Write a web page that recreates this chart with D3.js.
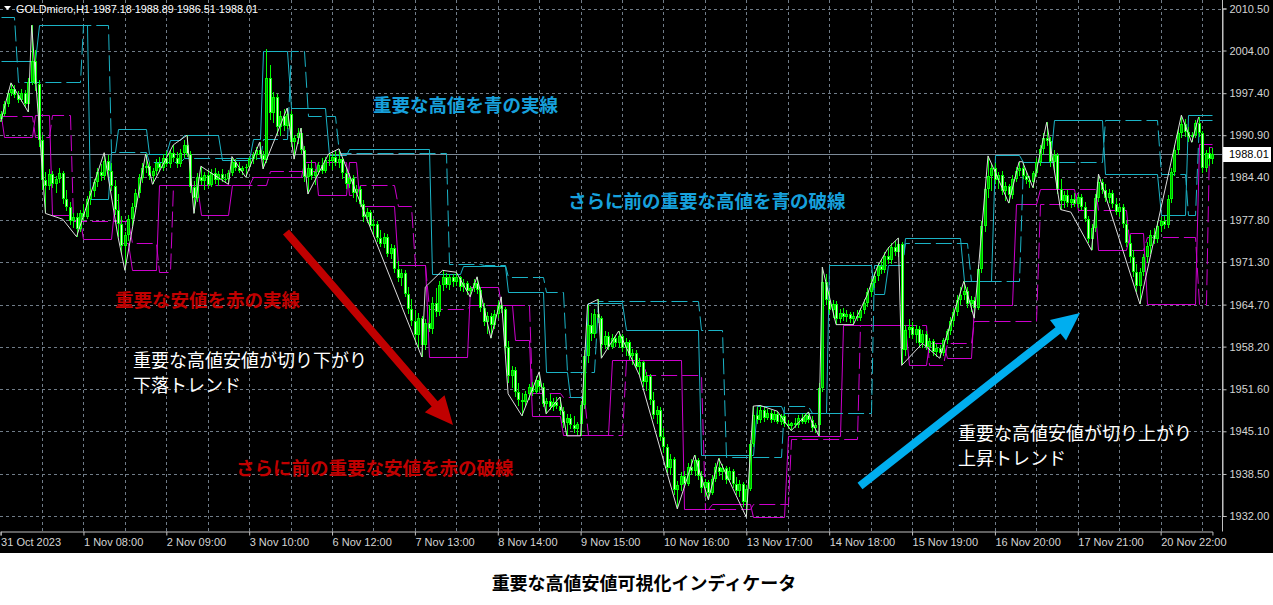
<!DOCTYPE html>
<html><head><meta charset="utf-8">
<script src="https://cdn.jsdelivr.net/npm/d3@7"></script>
<style>html,body{margin:0;padding:0;background:#fff;}svg{display:block;}</style>
</head><body>
<svg id="c" width="1273" height="605"></svg>
<script>
// ---------------- DATA ----------------
const symbolTitle = "GOLDmicro,H1  1987.18 1988.89 1986.51 1988.01";
const priceTicks = [2010.50,2004.00,1997.40,1990.90,1984.40,1977.80,1971.30,1964.70,1958.20,1951.60,1945.10,1938.50,1932.00];
const timeLabels = ["31 Oct 2023","1 Nov 08:00","2 Nov 09:00","3 Nov 10:00","6 Nov 12:00","7 Nov 13:00","8 Nov 14:00","9 Nov 15:00","10 Nov 16:00","13 Nov 17:00","14 Nov 18:00","15 Nov 19:00","16 Nov 20:00","17 Nov 21:00","20 Nov 22:00"];
const timeLabelBars = [0,24,48,72,96,120,144,168,192,216,240,264,288,312,336];
const lastPrice = 1988.01;

const opens = [1993.4,1994.2,1995.8,1997.5,1998.0,1997.1,1996.4,1997.4,1995.7,1999.2,
2002.4,1998.8,1990.2,1984.0,1983.0,1984.9,1983.4,1984.1,1985.0,1981.0,
1979.8,1977.6,1978.3,1976.4,1978.9,1978.2,1981.0,1982.2,1983.6,1985.2,
1984.6,1986.9,1985.3,1983.0,1979.4,1977.2,1973.8,1975.4,1977.9,1979.8,
1982.0,1984.3,1985.9,1986.2,1984.6,1985.4,1986.6,1985.8,1987.4,1986.5,
1988.1,1987.3,1986.4,1988.2,1989.4,1988.0,1982.9,1981.2,1984.4,1983.8,
1984.8,1983.2,1985.0,1984.0,1984.9,1984.2,1984.1,1985.1,1986.8,1985.9,
1985.4,1985.8,1986.0,1987.2,1987.8,1988.6,1987.9,1987.0,1999.8,1994.4,
1996.8,1992.2,1993.9,1992.4,1994.2,1989.8,1990.4,1991.2,1988.6,1984.5,
1985.8,1984.6,1985.2,1986.3,1985.4,1987.1,1986.9,1987.6,1986.6,1987.2,
1985.0,1983.4,1984.3,1981.9,1982.6,1980.3,1978.2,1979.0,1976.8,1977.2,
1975.0,1974.1,1975.2,1972.6,1973.5,1970.2,1968.8,1969.6,1966.4,1964.0,
1962.2,1960.0,1962.6,1958.4,1961.8,1960.9,1965.0,1963.6,1967.8,1968.9,
1967.8,1969.0,1968.2,1968.9,1967.4,1968.0,1966.8,1967.2,1968.1,1966.9,
1964.2,1962.0,1962.9,1961.6,1963.2,1964.6,1964.0,1958.2,1953.6,1954.6,
1951.2,1950.0,1949.6,1950.8,1951.9,1951.2,1953.0,1952.0,1949.4,1949.8,
1948.9,1949.7,1949.0,1948.2,1946.4,1947.2,1946.0,1945.4,1946.2,1949.2,
1956.8,1961.6,1960.2,1963.2,1962.6,1958.4,1959.8,1958.2,1959.6,1958.8,
1959.9,1958.0,1958.9,1956.8,1957.2,1955.0,1955.8,1952.8,1953.6,1950.0,
1947.6,1948.4,1944.2,1942.6,1939.4,1940.8,1936.0,1936.8,1938.2,1937.0,
1939.6,1939.0,1940.6,1938.2,1936.4,1937.2,1935.6,1937.8,1939.6,1938.8,
1939.4,1937.6,1938.9,1937.0,1935.8,1936.9,1934.2,1936.2,1943.2,1947.6,
1946.9,1948.4,1947.2,1948.0,1946.9,1947.8,1946.6,1947.4,1946.2,1945.9,
1946.4,1946.0,1947.2,1946.6,1947.6,1946.8,1945.6,1946.0,1951.8,1968.2,
1965.4,1963.8,1964.8,1962.4,1963.4,1962.8,1963.3,1962.4,1963.0,1962.6,
1963.8,1965.0,1966.6,1968.0,1969.2,1970.6,1970.0,1972.2,1971.6,1973.6,
1972.8,1974.0,1957.6,1960.8,1961.2,1960.0,1961.0,1958.8,1960.2,1958.2,
1959.0,1957.4,1958.0,1957.2,1959.2,1960.6,1962.2,1963.6,1965.4,1966.2,
1966.8,1964.8,1965.4,1964.2,1970.2,1976.8,1982.6,1984.6,1985.8,1984.0,
1984.8,1982.2,1983.0,1981.6,1984.2,1985.4,1985.8,1984.6,1984.0,1983.6,
1985.0,1986.8,1988.8,1990.4,1990.0,1986.8,1987.8,1982.6,1980.8,1981.6,
1980.4,1981.0,1980.2,1981.4,1979.8,1978.0,1974.8,1976.6,1981.2,1983.6,
1982.4,1981.2,1982.0,1980.2,1979.0,1979.8,1977.2,1974.2,1972.0,1969.8,
1967.6,1969.8,1972.0,1973.8,1975.4,1974.8,1976.8,1977.6,1977.0,1981.0,
1985.2,1988.6,1991.2,1992.6,1991.4,1990.6,1991.0,1992.8,1991.2,1985.8,
1988.2,1987.18];

const highs = [1994.6,1996.2,1997.9,1999.0,1998.6,1997.8,1998.1,1997.9,1999.8,2007.9,
2004.1,1999.5,1991.0,1985.2,1985.6,1985.4,1984.6,1985.8,1985.3,1982.4,
1980.6,1978.9,1978.8,1979.4,1980.2,1981.5,1982.8,1984.1,1985.9,1986.4,
1988.2,1987.8,1986.6,1984.0,1981.8,1978.4,1976.0,1978.6,1980.4,1982.6,
1984.9,1986.6,1988.0,1986.8,1985.9,1987.2,1987.5,1988.0,1988.4,1988.6,
1989.4,1988.3,1988.8,1990.1,1990.9,1988.5,1983.8,1985.0,1986.1,1985.2,
1985.5,1985.6,1985.9,1985.4,1985.6,1984.9,1985.5,1987.6,1987.2,1986.8,
1986.2,1986.4,1987.6,1988.3,1989.1,1989.8,1988.4,2004.2,2001.8,1997.6,
1997.2,1994.6,1995.0,1995.1,1994.6,1991.0,1992.0,1992.0,1989.2,1986.4,
1987.0,1985.6,1986.8,1987.4,1987.5,1988.0,1988.2,1988.4,1988.8,1987.6,
1985.8,1985.0,1984.8,1983.2,1983.0,1980.9,1979.6,1979.4,1977.9,1977.6,
1976.2,1975.8,1975.6,1974.0,1973.9,1971.4,1970.2,1970.0,1967.4,1965.6,
1963.8,1963.4,1963.0,1962.4,1964.6,1965.8,1967.2,1968.4,1970.0,1969.6,
1969.5,1969.4,1969.7,1969.2,1968.6,1968.4,1967.6,1968.6,1969.0,1967.4,
1965.0,1963.6,1963.4,1963.8,1965.2,1965.9,1964.4,1959.0,1955.2,1955.0,
1952.6,1951.0,1951.4,1952.4,1952.8,1953.6,1954.3,1952.6,1950.2,1950.8,
1950.2,1950.4,1950.4,1948.8,1947.8,1947.8,1947.4,1946.6,1949.8,1957.6,
1964.7,1963.4,1964.0,1965.5,1963.0,1960.6,1960.4,1960.2,1960.0,1960.6,
1960.2,1959.6,1959.2,1957.8,1957.6,1956.4,1956.0,1954.2,1953.9,1951.2,
1949.0,1948.8,1945.6,1943.2,1941.6,1941.2,1937.4,1938.8,1939.0,1940.2,
1940.8,1941.4,1941.0,1939.0,1937.8,1937.6,1938.4,1940.2,1940.9,1940.0,
1939.8,1939.6,1939.2,1938.0,1937.6,1937.2,1936.8,1943.8,1949.0,1948.8,
1949.1,1948.9,1948.6,1948.4,1948.2,1948.2,1947.8,1947.8,1946.8,1946.6,
1947.2,1947.6,1947.8,1948.0,1948.1,1947.4,1946.4,1952.6,1970.5,1969.4,
1966.8,1965.4,1965.2,1964.0,1964.2,1963.8,1963.6,1963.6,1963.8,1964.2,
1965.6,1967.2,1968.6,1969.8,1971.2,1971.8,1972.8,1973.6,1974.2,1974.6,
1975.0,1974.4,1961.6,1962.4,1962.0,1961.6,1961.4,1960.8,1960.6,1959.6,
1959.4,1958.6,1958.4,1959.6,1961.0,1962.8,1964.2,1966.2,1967.4,1968.3,
1967.4,1966.0,1965.8,1970.8,1977.6,1983.4,1987.7,1986.4,1986.6,1985.2,
1985.4,1983.6,1983.4,1984.8,1986.0,1986.8,1986.6,1985.2,1984.6,1985.4,
1987.4,1989.4,1991.2,1992.9,1990.6,1988.6,1988.2,1984.2,1982.2,1982.4,
1981.6,1982.0,1981.8,1981.8,1980.6,1978.4,1977.2,1981.8,1984.9,1984.2,
1983.4,1982.6,1982.4,1981.2,1980.4,1980.2,1977.8,1975.4,1973.2,1971.0,
1970.4,1972.6,1974.4,1976.2,1976.6,1977.6,1978.2,1978.4,1981.6,1985.8,
1989.4,1991.8,1994.0,1993.4,1992.2,1991.4,1993.2,1993.7,1991.6,1988.6,
1989.0,1988.89];

const lows = [1993.0,1993.8,1995.2,1996.9,1996.6,1995.9,1996.0,1995.2,1994.5,1998.6,
1997.8,1989.0,1982.5,1978.8,1982.4,1982.8,1982.0,1983.5,1980.2,1979.2,
1977.0,1976.5,1975.2,1976.0,1977.6,1977.9,1980.1,1981.3,1982.9,1983.8,
1984.0,1984.5,1982.2,1978.6,1975.2,1972.6,1970.0,1974.6,1976.8,1979.0,
1981.2,1983.5,1985.1,1984.0,1983.3,1984.8,1985.2,1985.3,1986.0,1985.9,
1986.8,1985.8,1986.0,1987.4,1987.6,1982.0,1978.8,1980.6,1983.2,1982.5,
1982.8,1982.9,1983.4,1983.1,1983.6,1983.5,1983.3,1984.6,1985.4,1985.0,
1984.7,1984.4,1985.6,1986.5,1987.0,1987.4,1985.7,1986.6,1993.2,1992.8,
1991.0,1990.8,1991.6,1991.8,1989.0,1987.2,1989.6,1988.0,1983.6,1981.8,
1984.0,1983.2,1984.7,1984.9,1985.0,1986.2,1985.5,1986.1,1985.8,1984.2,
1982.6,1982.8,1981.2,1980.6,1979.8,1977.5,1977.3,1976.2,1975.4,1974.4,
1973.6,1973.5,1972.0,1971.8,1969.6,1968.2,1967.6,1965.8,1963.2,1961.4,
1958.8,1957.8,1956.6,1957.6,1960.4,1960.2,1962.8,1963.0,1966.8,1967.2,
1967.0,1967.4,1967.6,1966.8,1966.6,1966.2,1965.9,1966.6,1966.4,1963.6,
1961.4,1960.2,1959.5,1961.0,1962.6,1963.4,1957.0,1952.6,1951.8,1950.4,
1949.0,1947.5,1948.8,1950.0,1950.6,1950.8,1951.4,1948.8,1947.8,1948.4,
1948.2,1948.6,1947.6,1945.6,1944.4,1945.4,1944.8,1944.6,1944.4,1948.6,
1955.6,1959.0,1959.6,1961.8,1956.4,1957.8,1957.6,1957.8,1958.2,1958.0,
1957.4,1956.8,1956.2,1955.4,1954.6,1953.8,1952.0,1951.4,1949.2,1947.0,
1946.2,1943.6,1941.8,1938.6,1938.4,1935.2,1933.1,1935.8,1936.4,1936.6,
1938.4,1938.2,1937.6,1935.6,1935.0,1934.5,1935.2,1937.2,1938.2,1937.6,
1937.0,1937.2,1936.4,1935.2,1935.0,1933.4,1931.8,1935.8,1942.6,1946.2,
1946.4,1946.6,1946.8,1946.4,1946.5,1946.2,1946.0,1945.8,1945.4,1945.2,
1945.6,1945.6,1946.2,1946.2,1946.4,1945.2,1944.8,1944.4,1951.2,1964.6,
1963.2,1962.6,1961.6,1961.8,1962.2,1962.0,1961.8,1961.6,1962.2,1962.2,
1963.2,1964.4,1965.8,1967.2,1968.4,1969.4,1969.6,1971.0,1971.0,1972.2,
1972.0,1955.3,1956.8,1959.6,1959.4,1958.8,1958.2,1958.0,1957.6,1957.2,
1956.8,1956.6,1956.4,1956.8,1958.6,1960.0,1961.4,1963.0,1964.6,1965.4,
1964.2,1963.6,1962.6,1963.8,1969.6,1976.0,1981.2,1982.2,1983.4,1982.6,
1981.6,1980.8,1980.4,1981.0,1983.6,1984.6,1984.2,1983.4,1982.8,1982.8,
1984.4,1986.2,1988.0,1989.2,1986.0,1985.4,1981.8,1979.4,1979.6,1979.8,
1979.6,1979.8,1979.6,1979.4,1977.4,1974.2,1973.1,1976.0,1980.6,1981.8,
1980.6,1980.4,1979.6,1978.6,1978.2,1976.6,1973.6,1971.2,1969.0,1966.6,
1964.8,1969.2,1971.2,1972.6,1974.0,1974.2,1976.0,1976.4,1976.6,1980.4,
1984.6,1987.8,1990.4,1990.6,1989.8,1989.8,1990.4,1990.6,1985.0,1985.2,
1986.2,1986.51];

const closes = [1994.2,1995.8,1997.5,1998.0,1997.1,1996.4,1997.4,1995.7,1999.2,2002.4,
1998.8,1990.2,1984.0,1983.0,1984.9,1983.4,1984.1,1985.0,1981.0,1979.8,
1977.6,1978.3,1976.4,1978.9,1978.2,1981.0,1982.2,1983.6,1985.2,1984.6,
1986.9,1985.3,1983.0,1979.4,1977.2,1973.8,1975.4,1977.9,1979.8,1982.0,
1984.3,1985.9,1986.2,1984.6,1985.4,1986.6,1985.8,1987.4,1986.5,1988.1,
1987.3,1986.4,1988.2,1989.4,1988.0,1982.9,1981.2,1984.4,1983.8,1984.8,
1983.2,1985.0,1984.0,1984.9,1984.2,1984.1,1985.1,1986.8,1985.9,1985.4,
1985.8,1986.0,1987.2,1987.8,1988.6,1987.9,1987.0,1999.8,1994.4,1996.8,
1992.2,1993.9,1992.4,1994.2,1989.8,1990.4,1991.2,1988.6,1984.5,1985.8,
1984.6,1985.2,1986.3,1985.4,1987.1,1986.9,1987.6,1986.6,1987.2,1985.0,
1983.4,1984.3,1981.9,1982.6,1980.3,1978.2,1979.0,1976.8,1977.2,1975.0,
1974.1,1975.2,1972.6,1973.5,1970.2,1968.8,1969.6,1966.4,1964.0,1962.2,
1960.0,1962.6,1958.4,1961.8,1960.9,1965.0,1963.6,1967.8,1968.9,1967.8,
1969.0,1968.2,1968.9,1967.4,1968.0,1966.8,1967.2,1968.1,1966.9,1964.2,
1962.0,1962.9,1961.6,1963.2,1964.6,1964.0,1958.2,1953.6,1954.6,1951.2,
1950.0,1949.6,1950.8,1951.9,1951.2,1953.0,1952.0,1949.4,1949.8,1948.9,
1949.7,1949.0,1948.2,1946.4,1947.2,1946.0,1945.4,1946.2,1949.2,1956.8,
1961.6,1960.2,1963.2,1962.6,1958.4,1959.8,1958.2,1959.6,1958.8,1959.9,
1958.0,1958.9,1956.8,1957.2,1955.0,1955.8,1952.8,1953.6,1950.0,1947.6,
1948.4,1944.2,1942.6,1939.4,1940.8,1936.0,1936.8,1938.2,1937.0,1939.6,
1939.0,1940.6,1938.2,1936.4,1937.2,1935.6,1937.8,1939.6,1938.8,1939.4,
1937.6,1938.9,1937.0,1935.8,1936.9,1934.2,1936.2,1943.2,1947.6,1946.9,
1948.4,1947.2,1948.0,1946.9,1947.8,1946.6,1947.4,1946.2,1945.9,1946.4,
1946.0,1947.2,1946.6,1947.6,1946.8,1945.6,1946.0,1951.8,1968.2,1965.4,
1963.8,1964.8,1962.4,1963.4,1962.8,1963.3,1962.4,1963.0,1962.6,1963.8,
1965.0,1966.6,1968.0,1969.2,1970.6,1970.0,1972.2,1971.6,1973.6,1972.8,
1974.0,1957.6,1960.8,1961.2,1960.0,1961.0,1958.8,1960.2,1958.2,1959.0,
1957.4,1958.0,1957.2,1959.2,1960.6,1962.2,1963.6,1965.4,1966.2,1966.8,
1964.8,1965.4,1964.2,1970.2,1976.8,1982.6,1984.6,1985.8,1984.0,1984.8,
1982.2,1983.0,1981.6,1984.2,1985.4,1985.8,1984.6,1984.0,1983.6,1985.0,
1986.8,1988.8,1990.4,1990.0,1986.8,1987.8,1982.6,1980.8,1981.6,1980.4,
1981.0,1980.2,1981.4,1979.8,1978.0,1974.8,1976.6,1981.2,1983.6,1982.4,
1981.2,1982.0,1980.2,1979.0,1979.8,1977.2,1974.2,1972.0,1969.8,1967.6,
1969.8,1972.0,1973.8,1975.4,1974.8,1976.8,1977.6,1977.0,1981.0,1985.2,
1988.6,1991.2,1992.6,1991.4,1990.6,1991.0,1992.8,1991.2,1985.8,1988.2,
1987.18,1988.01];

// swing zigzag (white)
const zigzagBars = [0,3,8,9,13,18,22,30,34,36,42,44,50,54,56,58,66,67,71,75,76,83,85,87,89,95,98,122,123,128,132,136,138,142,145,147,151,156,158,162,164,168,170,173,174,179,185,196,201,205,208,216,218,220,225,229,234,235,237,238,242,247,251,254,257,260,261,267,272,279,282,286,289,292,295,296,299,303,307,310,316,318,330,342,345,347];
const zigzagPrices = [1993.0,1999.0,1994.5,2007.9,1978.8,1977.9,1975.2,1988.2,1975.2,1970.0,1988.0,1983.3,1989.4,1990.9,1978.8,1986.1,1983.3,1987.6,1984.4,1989.8,1985.7,1995.1,1987.2,1992.0,1981.8,1988.0,1988.8,1956.6,1967.4,1970.0,1969.7,1965.9,1969.0,1959.5,1965.9,1950.9,1947.5,1954.3,1947.8,1950.4,1944.4,1944.4,1964.7,1965.5,1956.4,1960.6,1953.8,1933.1,1941.4,1934.5,1940.9,1931.8,1949.0,1949.1,1948.2,1945.2,1948.1,1946.5,1944.4,1970.5,1961.6,1961.6,1966.2,1970.6,1973.4,1975.0,1955.3,1958.7,1956.4,1968.3,1962.6,1987.7,1984.1,1980.4,1986.8,1986.8,1982.8,1992.9,1979.4,1979.0,1973.1,1984.9,1964.8,1994.0,1989.8,1993.7];

// step levels: [first bar, last bar, price]
const highSolid = [[0,10,2002.4],[11,25,2007.9],[26,31,1981.0],[32,33,1988.3],[34,42,1991.8],[43,48,1988.0],[49,52,1990.2],[53,63,1990.9],[64,72,1987.0],[73,75,1990.3],[76,83,2004.0],[84,94,1995.1],[95,100,1987.9],[101,124,1988.8],[125,133,1969.5],[134,146,1970.6],[147,157,1966.6],[158,164,1954.3],[165,169,1950.4],[170,180,1964.9],[181,202,1960.8],[203,218,1941.5],[219,226,1949.0],[227,239,1948.0],[240,252,1970.8],[253,256,1966.3],[257,261,1970.8],[262,278,1975.0],[279,287,1968.3],[288,295,1987.8],[296,304,1986.7],[305,319,1993.3],[320,335,1984.9],[336,343,1978.6],[344,351,1994.0]];
const highDashed = [[0,4,2009.2],[5,23,1999.1],[24,31,2007.9],[32,42,1988.3],[43,52,1986.7],[53,75,1987.4],[76,83,1990.3],[84,88,2004.0],[89,97,1993.9],[98,129,1988.2],[130,139,1971.0],[140,146,1970.8],[147,157,1969.0],[158,163,1966.6],[164,172,1954.3],[173,202,1965.2],[203,209,1960.8],[210,226,1941.2],[227,234,1949.0],[235,252,1948.0],[253,261,1970.8],[262,280,1974.2],[281,295,1968.3],[296,319,1986.7],[320,335,1993.3],[336,343,1984.9],[344,346,1978.6],[347,351,1993.3]];
const lowSolid = [[0,0,1993.8],[1,9,1990.6],[10,14,1994.0],[15,20,1978.6],[21,23,1977.8],[24,32,1974.9],[33,34,1980.9],[35,37,1974.3],[38,45,1970.0],[46,57,1983.2],[58,66,1978.6],[67,72,1983.2],[73,87,1984.4],[88,91,1986.8],[92,100,1981.6],[101,103,1986.8],[104,114,1980.0],[115,123,1970.8],[124,135,1956.6],[136,144,1967.4],[145,148,1964.7],[149,153,1959.2],[154,162,1947.5],[163,176,1944.6],[177,197,1956.1],[198,205,1933.1],[206,217,1933.9],[218,227,1931.8],[228,243,1944.3],[244,262,1961.6],[263,268,1955.3],[269,273,1958.7],[274,281,1956.4],[282,293,1964.7],[294,300,1980.2],[301,311,1982.6],[312,317,1979.4],[318,326,1973.1],[327,331,1975.7],[332,346,1964.8],[347,351,1989.5]];
const lowDashed = [[0,9,1993.8],[10,14,1990.6],[15,20,1994.0],[21,37,1977.6],[38,45,1974.3],[46,49,1969.8],[50,77,1983.2],[78,91,1985.4],[92,100,1986.8],[101,103,1981.6],[104,114,1983.2],[115,119,1980.0],[120,123,1970.8],[124,135,1964.0],[136,153,1964.7],[154,162,1951.0],[163,169,1950.4],[170,180,1944.6],[181,186,1956.1],[187,203,1953.8],[204,217,1933.1],[218,228,1933.9],[229,248,1943.9],[249,268,1961.6],[269,273,1955.3],[274,281,1958.7],[282,300,1962.1],[301,311,1980.2],[312,317,1982.6],[318,326,1979.4],[327,331,1973.1],[332,346,1975.2],[347,349,1964.8],[350,351,1989.0]];

const notes = ["重要な高値を青の実線","さらに前の重要な高値を青の破線","重要な安値を赤の実線","重要な高値安値が切り下がり","下落トレンド","さらに前の重要な安値を赤の破線","重要な高値安値が切り上がり","上昇トレンド"];
const caption = "重要な高値安値可視化インディケータ";

// ---------------- DRAW ----------------
const W = 1273, H = 605, plotR = 1222, plotB = 531;
const svg = d3.select("#c");
svg.append("rect").attr("width", W).attr("height", 553).attr("fill", "#000");

const x = d3.scaleLinear().domain([0, 351]).range([0.6, 0.6 + 351 * 3.4525]);
const y = d3.scaleLinear().domain([1932, 2010.5]).range([516, 8.5]);
const px = i => Math.round(x(i)) + 0.5;

svg.append("defs").append("clipPath").attr("id", "plot")
  .append("rect").attr("x", 0).attr("y", 0).attr("width", plotR).attr("height", plotB);

// grid
const grid = svg.append("g").attr("stroke", "#707c88").attr("stroke-width", 1).attr("stroke-dasharray", "3,3").attr("shape-rendering", "crispEdges");
priceTicks.forEach(p => grid.append("line").attr("x1", 0).attr("x2", plotR).attr("y1", Math.round(y(p)) + 0.5).attr("y2", Math.round(y(p)) + 0.5));
for (let i = 12; i <= 348; i += 12) grid.append("line").attr("x1", px(i)).attr("x2", px(i)).attr("y1", 0).attr("y2", plotB);

// axes
const yAxis = d3.axisRight(y).tickValues(priceTicks).tickFormat(d3.format(".2f")).tickSize(4).tickPadding(3);
const gy = svg.append("g").attr("transform", `translate(${plotR + 0.5},0)`).call(yAxis);
gy.select(".domain").attr("stroke", "#c0c0c0");
gy.selectAll(".tick line").attr("stroke", "#c0c0c0");
gy.selectAll(".tick text").attr("fill", "#d4d4d4").attr("font-family", "Liberation Sans, Arial, sans-serif").attr("font-size", "11px");

const xAxis = d3.axisBottom(x).tickValues(timeLabelBars).tickFormat((d, i) => timeLabels[i]).tickSize(4).tickPadding(3);
const gx = svg.append("g").attr("transform", `translate(0,${plotB + 0.5})`).call(xAxis);
gx.select(".domain").attr("stroke", "#c0c0c0");
gx.selectAll(".tick line").attr("stroke", "#c0c0c0");
gx.selectAll(".tick text").attr("fill", "#d4d4d4").attr("font-family", "Liberation Sans, Arial, sans-serif").attr("font-size", "11px").attr("text-anchor", "start").attr("dx", "0");

const plot = svg.append("g").attr("clip-path", "url(#plot)");

// current price line
plot.append("line").attr("x1", 0).attr("x2", plotR).attr("y1", Math.round(y(lastPrice)) + 0.5).attr("y2", Math.round(y(lastPrice)) + 0.5).attr("stroke", "#7c8a98").attr("stroke-width", 1);

// step lines
function stepPoints(levels) {
  const pts = [];
  levels.forEach((lv, k) => {
    pts.push([lv[0], lv[2]]); pts.push([lv[1], lv[2]]);
    const nx = levels[k + 1];
    if (nx && nx[0] !== lv[1] + 1) pts.push(null);
  });
  return pts;
}
const stepLine = d3.line().defined(d => d !== null).x(d => px(d[0])).y(d => Math.round(y(d[1])) + 0.5);
function drawStep(levels, color, dashed) {
  plot.append("path").attr("d", stepLine(stepPoints(levels))).attr("fill", "none").attr("stroke", color).attr("stroke-width", 1)
    .attr("stroke-dasharray", dashed ? "16,5" : null);
}
drawStep(lowDashed, "#cc00cc", true);
drawStep(lowSolid, "#cc00cc", false);
drawStep(highDashed, "#1bb3c6", true);
drawStep(highSolid, "#1bb3c6", false);

// candles
const cg = plot.append("g").attr("shape-rendering", "crispEdges");
closes.forEach((c, i) => {
  const o = opens[i], cx = px(i);
  cg.append("line").attr("x1", cx).attr("x2", cx).attr("y1", y(highs[i])).attr("y2", y(lows[i])).attr("stroke", "#00ff00");
  const top = y(Math.max(o, c)), bot = y(Math.min(o, c));
  const up = c >= o;
  cg.append("rect").attr("x", cx - 1.5).attr("y", top).attr("width", 3).attr("height", Math.max(1, bot - top))
    .attr("fill", "#00ff00");
  if (bot - top > 2) cg.append("rect").attr("x", cx - 0.5).attr("y", top + 1).attr("width", 1).attr("height", bot - top - 2)
    .attr("fill", up ? "#00a800" : "#d8ffd0");
});

// zigzag
const zz = d3.line().x(d => x(d)).y((d, i) => y(zigzagPrices[i]));
plot.append("path").attr("d", zz(zigzagBars)).attr("fill", "none").attr("stroke", "#dcdcdc").attr("stroke-width", 1);

// borders
svg.append("line").attr("x1", plotR + 0.5).attr("x2", plotR + 0.5).attr("y1", 0).attr("y2", plotB + 0.5).attr("stroke", "#c0c0c0");

// last price tag
svg.append("rect").attr("x", 1223).attr("y", Math.round(y(lastPrice)) - 7).attr("width", 48).attr("height", 15).attr("fill", "#fff");
svg.append("text").attr("x", 1229).attr("y", y(lastPrice)).attr("dominant-baseline", "central").attr("font-family", "Liberation Sans, Arial, sans-serif").attr("font-size", "11px").attr("fill", "#000").text(d3.format(".2f")(lastPrice));

// header
svg.append("path").attr("d", "M4,6 L11,6 L7.5,10 Z").attr("fill", "#fff");
svg.append("text").attr("x", 16).attr("y", 9).attr("dominant-baseline", "central").attr("font-family", "Liberation Sans, Arial, sans-serif").attr("font-size", "10.8px").attr("fill", "#fff").text(symbolTitle);

// arrows
function arrow(x1, y1, x2, y2, color, w, hl, hw) {
  const dx = x2 - x1, dy = y2 - y1, L = Math.hypot(dx, dy), ux = dx / L, uy = dy / L, nx = -uy, ny = ux;
  const bx = x2 - ux * hl, by = y2 - uy * hl;
  const p = [[x1 + nx * w / 2, y1 + ny * w / 2], [bx + nx * w / 2, by + ny * w / 2], [bx + nx * hw / 2, by + ny * hw / 2], [x2, y2], [bx - nx * hw / 2, by - ny * hw / 2], [bx - nx * w / 2, by - ny * w / 2], [x1 - nx * w / 2, y1 - ny * w / 2]];
  svg.append("path").attr("d", "M" + p.map(q => q.join(",")).join("L") + "Z").attr("fill", color);
}
arrow(286, 232, 453, 425, "#c00000", 8, 28, 26);
arrow(860, 486, 1080, 313, "#00aeef", 8, 28, 26);

// annotations
const jp = "Noto Sans CJK JP, sans-serif";
function note(t, xx, yy, color, weight, fs) {
  svg.append("text").attr("x", xx).attr("y", yy).attr("dominant-baseline", "central").attr("font-family", jp).attr("font-size", (fs || 18.5) + "px").attr("font-weight", weight).attr("fill", color).text(t);
}
note(notes[0], 373, 104, "#17a0dc", 700);
note(notes[1], 568, 200, "#17a0dc", 700);
note(notes[2], 115, 299, "#c00000", 700);
note(notes[3], 133, 359, "#ffffff", 400, 18);
note(notes[4], 133, 384, "#ffffff", 400, 18);
note(notes[5], 236, 467, "#c00000", 700);
note(notes[6], 958, 432, "#ffffff", 400, 18);
note(notes[7], 958, 457, "#ffffff", 400, 18);

svg.append("text").attr("x", 644).attr("y", 582).attr("text-anchor", "middle").attr("dominant-baseline", "central").attr("font-family", jp).attr("font-size", "18px").attr("font-weight", 700).attr("fill", "#000").text(caption);
</script>
</body></html>
